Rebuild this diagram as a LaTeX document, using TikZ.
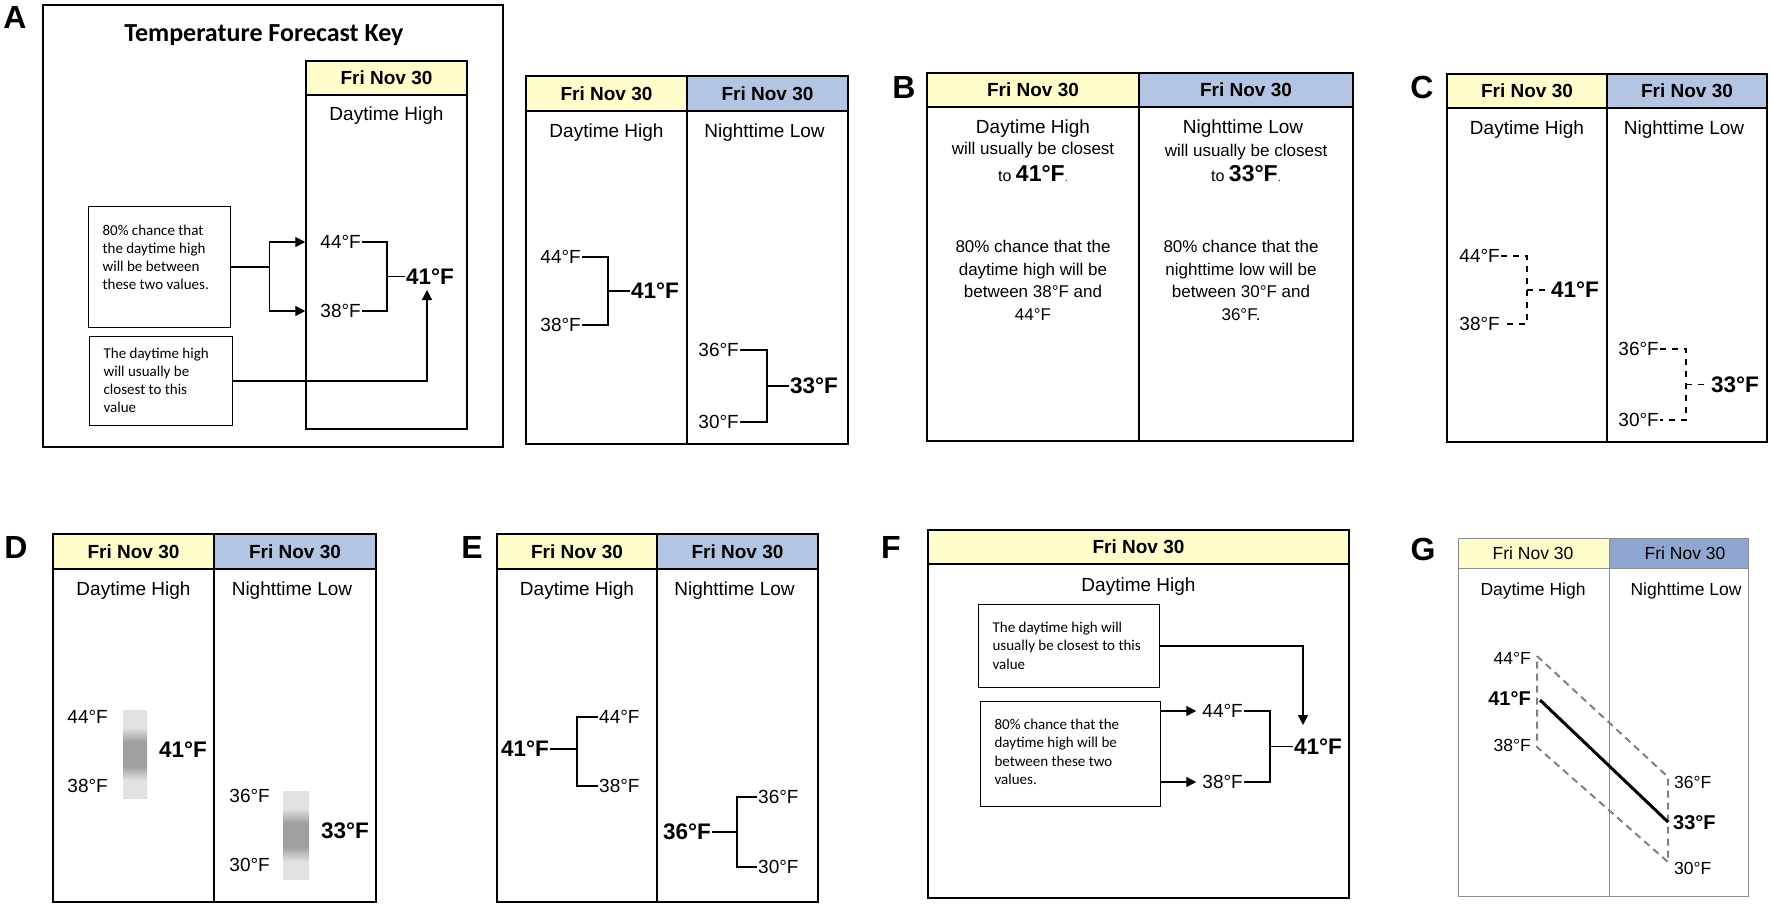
\documentclass[tikz,border=0pt]{standalone}
\usepackage{fontspec}
\setmainfont{Liberation Sans}
\newfontfamily\notefont{Carlito}
\usetikzlibrary{arrows.meta,calc}
\definecolor{dayyellow}{RGB}{255,253,204}
\definecolor{nightblue}{RGB}{180,197,228}
\definecolor{nightblueG}{RGB}{143,166,209}
\definecolor{framegray}{RGB}{140,140,140}
\definecolor{bandgray}{RGB}{128,128,128}
\definecolor{barlight}{RGB}{226,226,226}
\definecolor{bardark}{RGB}{160,160,160}
\pgfdeclareverticalshading{fuzzband}{100bp}{color(0bp)=(barlight); color(35bp)=(barlight);
  color(43bp)=(bardark); color(57bp)=(bardark); color(65bp)=(barlight); color(100bp)=(barlight)}
\newcommand{\notebody}[4]{\parbox[c][#2][t]{#1}{\leftskip=14pt\vspace*{#3}#4}}
\tikzset{
  cardline/.style={line width=1.8pt},
  hdr/.style={font=\fontsize{19}{23}\selectfont\bfseries, inner sep=0pt},
  subttl/.style={font=\fontsize{19}{23}\selectfont, inner sep=0pt, anchor=base},
  tempval/.style={font=\fontsize{19}{23}\selectfont, inner sep=1pt},
  midval/.style={font=\fontsize{22.5}{26}\selectfont\bfseries, inner sep=1pt},
  tempG/.style={font=\fontsize{17.5}{21}\selectfont, inner sep=0pt},
  midG/.style={font=\fontsize{20}{24}\selectfont\bfseries, inner sep=0pt},
  tag/.style={font=\fontsize{32}{36}\selectfont\bfseries, inner sep=0pt},
  note/.style={draw, line width=1.2pt, inner sep=0pt, font=\notefont\fontsize{15}{18}\selectfont},
  blurb/.style={font=\fontsize{17}{22.5}\selectfont, inner sep=0pt, align=center},
  brk/.style={line width=1.5pt},
  brkdash/.style={line width=1.4pt, dash pattern=on 6pt off 6pt},
  link/.style={line width=1.3pt},
  arr/.style={line width=1.3pt, -{Triangle[length=10pt,width=10pt]}},
  bandline/.style={bandgray, line width=2pt, dash pattern=on 7pt off 5pt}
}
\begin{document}
\begin{tikzpicture}[x=1pt,y=-1pt]
  \useasboundingbox (0,0) rectangle (1772,906);

  % panel letters
  \foreach \t/\x/\y in {A/15/17, B/904/87, C/1422/87, D/16/547, E/472/547, F/891/547, G/1423/549}
    \node[tag] (tag\t) at (\x,\y) {\t};

  % A: the key
  \draw[cardline] (43,5) rectangle (503,447);
  \node[font=\notefont\fontsize{26}{30}\selectfont\bfseries, anchor=base] (keyttl) at (264,41) {Temperature Forecast Key};
  \fill[dayyellow] (306,61) rectangle (467,95);
  \draw[cardline] (306,61) rectangle (467,429) (306,95) -- (467,95);
  \node[hdr] (hdkey) at (386.5,78) {Fri Nov 30};
  \node[subttl] (sdkey) at (386.5,120) {Daytime High};

  % two-column cards
  \foreach \id/\xl/\xm/\xr/\yt/\yh/\yb in {a/526/687/848/76/111/444, b/927/1139/1353/73/107/441,
      c/1447/1607/1767/74/108/442, d/53/214/376/534/569/902, e/497/657/818/534/569/902}
  {
    \fill[dayyellow] (\xl,\yt) rectangle (\xm,\yh);
    \fill[nightblue] (\xm,\yt) rectangle (\xr,\yh);
    \draw[cardline] (\xl,\yt) rectangle (\xr,\yb) (\xl,\yh) -- (\xr,\yh) (\xm,\yt) -- (\xm,\yb);
    \node[hdr] (hd\id) at ({(\xl+\xm)/2},{(\yt+\yh)/2}) {Fri Nov 30};
    \node[hdr] (hn\id) at ({(\xm+\xr)/2},{(\yt+\yh)/2}) {Fri Nov 30};
    \node[subttl] (sd\id) at ({(\xl+\xm)/2},\yh+26) {Daytime High};
    \node[subttl] (sn\id) at ({(\xm+\xr)/2-3},\yh+26) {Nighttime Low};
  }

  % range brackets: high/low on the left, middle value on the right
  \foreach \id/\hx/\hy/\ly/\jx/\cx/\hi/\lo/\ctr/\sty in {
      key/362/242/311/387/405/44/38/41/brk,
      aday/582/257/325/608/630/44/38/41/brk,
      anight/740/350/422/767/789/36/30/33/brk,
      cday/1501/256/324/1527/1550/44/38/41/brkdash,
      cnight/1660/349/420/1686/1710/36/30/33/brkdash,
      fday/1244/711/782/1270/1293/44/38/41/brk}
  {
    \node[tempval, anchor=east] (hi\id) at (\hx,\hy) {\hi°F};
    \node[tempval, anchor=east] (lo\id) at (\hx,\ly) {\lo°F};
    \coordinate (j\id) at (\jx,{(\hy+\ly)/2});
    \node[midval, anchor=west] (ct\id) at (\cx,{(\hy+\ly)/2}) {\ctr°F};
    \draw[\sty] (hi\id.east) -| (j\id) |- (lo\id.east);
    \draw[\sty] (j\id) -- (ct\id.west);
  }

  % A: notes and their arrows
  \node[note, anchor=north west] (noteA1) at (88,206)
    {\notebody{142pt}{121pt}{18pt}{80\% chance that\\the daytime high\\will be between\\these two values.}};
  \node[note, anchor=north west] (noteA2) at (89,336)
    {\notebody{143pt}{89pt}{11pt}{The daytime high\\will usually be\\closest to this\\value}};
  \draw[link] (noteA1.east) -- ++(38,0) coordinate (jnote);
  \draw[arr] (jnote) |- ([xshift=-14pt]hikey.west);
  \draw[arr] (jnote) |- ([xshift=-14pt]lokey.west);
  \coordinate (tipkey) at (427,290);
  \draw[arr] (noteA2.east) -| (tipkey);

  % B: worded forecast
  \node[blurb, anchor=base] (bday1) at (1033,154) {will usually be closest};
  \node[blurb, anchor=base] (bday2) at (1033,181)
    {\fontsize{16}{20}\selectfont to \fontsize{23}{26}\selectfont\bfseries 41°F\fontsize{11}{13}\selectfont\mdseries.};
  \node[blurb, anchor=north] (bday3) at (1033,240) {80\% chance that the\\daytime high will be\\between 38°F and\\44°F};
  \node[blurb, anchor=base] (bnight1) at (1246,156) {will usually be closest};
  \node[blurb, anchor=base] (bnight2) at (1246,181)
    {\fontsize{16}{20}\selectfont to \fontsize{23}{26}\selectfont\bfseries 33°F\fontsize{11}{13}\selectfont\mdseries.};
  \node[blurb, anchor=north] (bnight3) at (1241,240) {80\% chance that the\\nighttime low will be\\between 30°F and\\36°F.};

  % D: fuzzy bands
  \node[tempval, anchor=east] (hiDday) at (109,717) {44°F};
  \node[tempval, anchor=east] (loDday) at (109,786) {38°F};
  \shade[shading=fuzzband] (123,710) rectangle (147,798);
  \node[midval, anchor=west] (ctDday) at (158,750) {41°F};
  \node[tempval, anchor=east] (hiDnight) at (271,796) {36°F};
  \node[tempval, anchor=east] (loDnight) at (271,865) {30°F};
  \shade[shading=fuzzband] (283,791) rectangle (309,879);
  \node[midval, anchor=west] (ctDnight) at (320,831) {33°F};

  % E: brackets opening to the right
  \foreach \id/\cxe/\cy/\jx/\lx/\hy/\ly/\hi/\lo/\ctr in {
      eday/550/749/577/598/717/786/44/38/41,
      enight/712/832/737/757/797/867/36/30/36}
  {
    \node[midval, anchor=east] (ct\id) at (\cxe,\cy) {\ctr°F};
    \node[tempval, anchor=west] (hi\id) at (\lx,\hy) {\hi°F};
    \node[tempval, anchor=west] (lo\id) at (\lx,\ly) {\lo°F};
    \coordinate (j\id) at (\jx,\cy);
    \draw[brk] (ct\id.east) -- (j\id);
    \draw[brk] (hi\id.west) -| (j\id) |- (lo\id.west);
  }

  % F: one-column key
  \fill[dayyellow] (928,530) rectangle (1349,564);
  \draw[cardline] (928,530) rectangle (1349,898) (928,564) -- (1349,564);
  \node[hdr] (hdF) at (1138.5,547) {Fri Nov 30};
  \node[subttl] (sdF) at (1138.5,591) {Daytime High};
  \node[note, font=\notefont\fontsize{15}{18.5}\selectfont, anchor=north west] (noteF1) at (978,604)
    {\notebody{181pt}{83pt}{17pt}{The daytime high will\\usually be closest to this\\value}};
  \node[note, font=\notefont\fontsize{15}{18.5}\selectfont, anchor=north west] (noteF2) at (980,701)
    {\notebody{180pt}{105pt}{17pt}{80\% chance that the\\daytime high will be\\between these two\\values.}};
  \coordinate (tipF) at (1303,725);
  \draw[arr] (noteF1.east) -| (tipF);
  \draw[arr] (noteF2.east |- hifday.west) -- ([xshift=-5pt]hifday.west);
  \draw[arr] (noteF2.east |- lofday.west) -- ([xshift=-5pt]lofday.west);

  % G: band across both columns
  \fill[dayyellow] (1458,538) rectangle (1609,568);
  \fill[nightblueG] (1609,538) rectangle (1748,568);
  \draw[framegray, line width=1pt] (1458,538) rectangle (1748,896) (1458,568) -- (1748,568) (1609,538) -- (1609,896);
  \node[tempG] (hdGday) at (1533,553) {Fri Nov 30};
  \node[tempG] (hdGnight) at (1685,553) {Fri Nov 30};
  \node[tempG, anchor=base] (sdG) at (1533,595) {Daytime High};
  \node[tempG, anchor=base] (snG) at (1686,595) {Nighttime Low};
  \draw[bandline] (1537,656) -- (1668,777) -- (1668,862) -- (1537,747) -- cycle;
  \node[tempG, anchor=east] (hiGday) at (1531,658) {44°F};
  \node[midG, anchor=east] (ctGday) at (1531,699) {41°F};
  \node[tempG, anchor=east] (loGday) at (1531,745) {38°F};
  \node[tempG, anchor=west] (hiGnight) at (1674,782) {36°F};
  \node[midG, anchor=west] (ctGnight) at (1673,823) {33°F};
  \node[tempG, anchor=west] (loGnight) at (1674,868) {30°F};
  \coordinate (g41) at (1540,700);
  \coordinate (g33) at (1668,822);
  \draw[line width=3pt] (g41) -- (g33);
\end{tikzpicture}
\end{document}
